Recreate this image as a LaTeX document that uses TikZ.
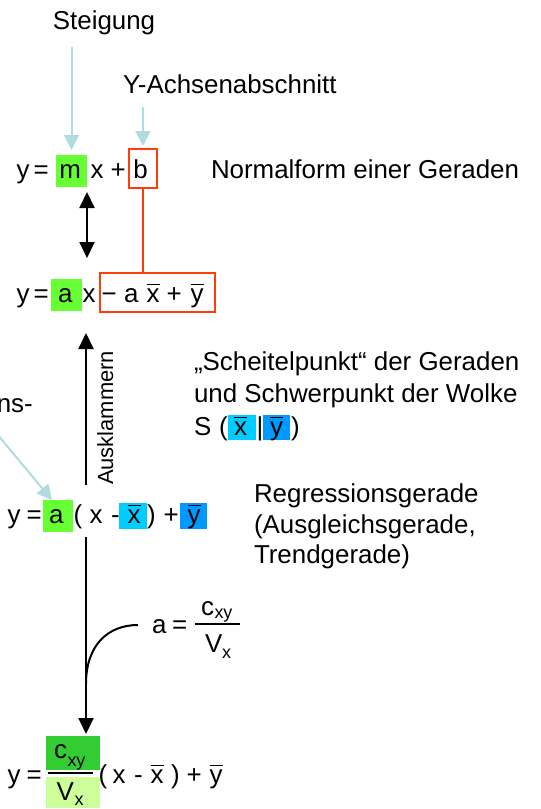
\documentclass[tikz,border=0pt]{standalone}
\usepackage{fontspec}
\setmainfont{Liberation Sans}
\usetikzlibrary{arrows.meta,calc,fit}

\definecolor{hlgreen}{RGB}{102,255,51}
\definecolor{hlcyan}{RGB}{0,204,255}
\definecolor{hlblue}{RGB}{0,153,255}
\definecolor{hldgreen}{RGB}{51,204,51}
\definecolor{hllgreen}{RGB}{204,255,153}
\definecolor{hlred}{RGB}{255,60,10}
\definecolor{lblue}{RGB}{176,220,224}

\newcommand\fbig{\fontsize{26}{30}\selectfont}
\newcommand\fmid{\fontsize{22}{26}\selectfont}
\newcommand\fsub{\fontsize{18}{20}\selectfont}
% letter with a bar over it (mean value)
\newcommand\barred[1]{\vbox{\hrule height 1.5bp\kern 3bp\hbox{#1}}}

\begin{document}
\begin{tikzpicture}[x=1bp,y=-1bp,
  tok/.style={anchor=base west,inner sep=0pt,outer sep=0pt,font=\fbig},
  sub/.style={anchor=base west,inner sep=0pt,outer sep=0pt,font=\fsub},
  fitbox/.style={inner sep=0pt,outer sep=0pt},
  redbox/.style={fitbox,draw=hlred,line width=2bp},
  redline/.style={draw=hlred,line width=2bp},
  lbarrow/.style={draw=lblue,line width=2bp,-{Triangle[length=15bp,width=15bp]}},
  blkarrow/.style={draw=black,line width=2bp,-{Triangle[length=16bp,width=15bp]}},
  dblarrow/.style={draw=black,line width=2bp,{Triangle[length=16bp,width=15bp]}-{Triangle[length=16bp,width=15bp]}}]

\useasboundingbox (0,0) rectangle (541,809);

% highlight boxes
\node[fitbox,fill=hlgreen,fit={(56,155) (87,187)}] (mbox) {};
\node[redbox,fit={(129,149) (157,188)}] (bbox) {};
\node[fitbox,fill=hlgreen,fit={(51,279) (82,311)}] (abox2) {};
\node[redbox,fit={(100,273) (215,312)}] (rbox) {};
\node[fitbox,fill=hlgreen,fit={(43,500) (73,532)}] (abox3) {};
\node[fitbox,fill=hlcyan,fit={(119,503) (147,529)}] (xbox3) {};
\node[fitbox,fill=hlblue,fit={(180,503) (207,529)}] (ybox3) {};
\node[fitbox,fill=hlcyan,fit={(228,415) (256,440)}] (xboxs) {};
\node[fitbox,fill=hlblue,fit={(263,415) (290,440)}] (yboxs) {};
\node[fitbox,fill=hldgreen,fit={(46,736) (100,770)}] (cbox) {};
\node[fitbox,fill=hllgreen,fit={(46,777) (100,808)}] (vbox) {};

% labels at the top
\node[anchor=base,inner sep=0pt,font=\fbig] (steig) at (104,30) {Steigung};
\node[tok] (yach) at (123,93) {Y-Achsenabschnitt};
\node[tok] (normal) at (211,178) {Normalform einer Geraden};

% y = m x + b
\node[tok] (l1y) at (16.7,178) {y};
\node[tok] (l1eq) at (33.7,178) {=};
\node[tok] (l1m) at (59.3,178) {m};
\node[tok] (l1x) at (90.7,178) {x};
\node[tok] (l1p) at (110.7,178) {+};
\node[tok] (l1b) at (133.3,178) {b};

% y = a x - a xbar + ybar
\node[tok] (l2y) at (16.7,302) {y};
\node[tok] (l2eq) at (33.7,302) {=};
\node[tok] (l2a) at (58,302) {a};
\node[tok] (l2x) at (82.7,302) {x};
\node[tok] (l2m) at (101.7,302) {−};
\node[tok] (l2a2) at (124,302) {a};
\node[tok] (l2xb) at (146.7,302) {\barred{x}};
\node[tok] (l2p) at (166.7,302) {+};
\node[tok] (l2yb) at (190.7,302) {\barred{y}};

% centre of the point cloud
\node[tok] (s1) at (194,370) {„Scheitelpunkt“ der Geraden};
\node[tok] (s2) at (194,402) {und Schwerpunkt der Wolke};
\node[tok] (s3) at (194,435) {S};
\node[tok] (s3o) at (219,435) {(};
\node[tok] (s3x) at (234,435) {\barred{x}};
\node[tok] (s3v) at (256.5,435) {|};
\node[tok] (s3y) at (270,435) {\barred{y}};
\node[tok] (s3c) at (291,435) {)};

% y = a (x - xbar) + ybar
\node[anchor=base east,inner sep=0pt,font=\fbig] (ns) at (33,412) {ns-};
\node[tok] (l3y) at (7.7,523) {y};
\node[tok] (l3eq) at (26.7,523) {=};
\node[tok] (l3a) at (49,523) {a};
\node[tok] (l3o) at (73.5,523) {(};
\node[tok] (l3x) at (89.7,523) {x};
\node[tok] (l3m) at (111,523) {-};
\node[tok] (l3xb) at (127.7,523) {\barred{x}};
\node[tok] (l3c) at (147.2,523) {)};
\node[tok] (l3p) at (163.7,523) {+};
\node[tok] (l3yb) at (187.7,523) {\barred{y}};

\node[tok] (r1) at (254,502) {Regressionsgerade};
\node[tok] (r2) at (254,533) {(Ausgleichsgerade,};
\node[tok] (r3) at (254,563) {Trendgerade)};

% a = cxy / Vx
\node[tok] (fa) at (152,633) {a};
\node[tok] (feq) at (172,633) {=};
\node[tok] (fc) at (201,615) {c};
\node[sub] (fcs) at (214.5,618) {xy};
\node[tok] (fv) at (205,652) {V};
\node[sub] (fvs) at (222,658) {x};
\draw[line width=1.4bp] (195,624) -- (240,624);

% y = cxy/Vx (x - xbar) + ybar
\node[tok] (l4y) at (7.7,783) {y};
\node[tok] (l4eq) at (26.7,783) {=};
\node[tok] (l4c) at (54,758) {c};
\node[sub] (l4cs) at (67.5,766) {xy};
\node[tok] (l4v) at (56.5,800) {V};
\node[sub] (l4vs) at (74.5,805) {x};
\draw[line width=2.2bp] (48,773) -- (93,773);
\node[tok] (l4o) at (98.5,783) {(};
\node[tok] (l4x) at (112.7,783) {x};
\node[tok] (l4m) at (134,783) {-};
\node[tok] (l4xb) at (150.7,783) {\barred{x}};
\node[tok] (l4c2) at (171,783) {)};
\node[tok] (l4p) at (186.7,783) {+};
\node[tok] (l4yb) at (209.7,783) {\barred{y}};

% rotated label
\node[anchor=base,inner sep=0pt,font=\fmid,rotate=90] (aus) at (113,418) {Ausklammern};

% connectors
\draw[lbarrow,shorten <=11.5bp,shorten >=5bp] (steig.south -| mbox.north) -- (mbox.north);
\draw[lbarrow,shorten <=14bp,shorten >=3bp] (yach.south -| bbox.north) -- (bbox.north);
\draw[redline] (bbox.south) -- (bbox.south |- rbox.north);
\draw[dblarrow,shorten <=5bp,shorten >=21bp] (mbox.south east) -- (mbox.south east |- abox2.north);

\coordinate (ausbot) at (86,485);
\coordinate (austop) at (86,333);
\draw[blkarrow] (ausbot) -- (austop);

\coordinate (regtail) at (-3,434);
\draw[lbarrow] (regtail) -- ($(abox3.north west)+(9,0)$);

\coordinate (downtop) at (86,537);
\draw[blkarrow,shorten >=2bp] (downtop) -- (downtop |- cbox.north);

\coordinate (curvestart) at (138,625);
\draw[line width=2bp] (curvestart) .. controls (108,625) and (86,645) .. (86,684);

\end{tikzpicture}
\end{document}
